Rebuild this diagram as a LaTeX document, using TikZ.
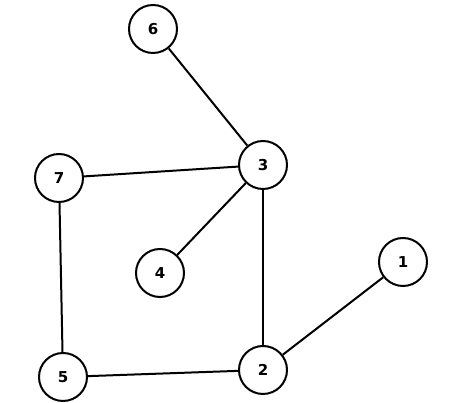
\documentclass[tikz,border=0pt]{standalone}
\usepackage{fontspec}
\setmainfont{DejaVu Sans}
\begin{document}
\begin{tikzpicture}[x=1pt,y=-1pt,
  vtx/.style={circle,draw=black,line width=2pt,fill=white,minimum size=48pt,inner sep=0pt,font=\fontsize{15}{17}\selectfont\bfseries},
  edge/.style={line width=2pt,black}]
\useasboundingbox[fill=white] (0,0) rectangle (451,403);
\node[vtx] (n6) at (153,29) {6};
\node[vtx] (n3) at (263,165) {3};
\node[vtx] (n7) at (59,178) {7};
\node[vtx] (n4) at (160,273) {4};
\node[vtx] (n1) at (403,262) {1};
\node[vtx] (n5) at (63,377) {5};
\node[vtx] (n2) at (263,370) {2};
\draw[edge] (n6) -- (n3);
\draw[edge] (n7) -- (n3);
\draw[edge] (n3) -- (n4);
\draw[edge] (n3) -- (n2);
\draw[edge] (n7) -- (n5);
\draw[edge] (n5) -- (n2);
\draw[edge] (n2) -- (n1);
\end{tikzpicture}
\end{document}
